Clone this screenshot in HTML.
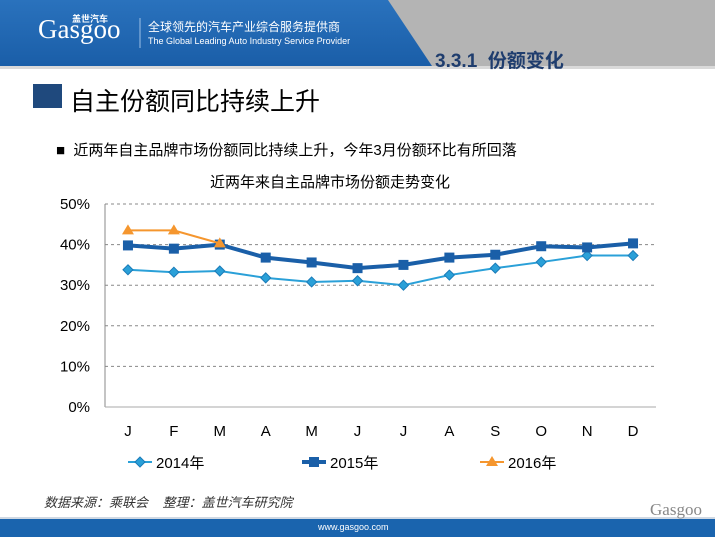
<!DOCTYPE html>
<html><head><meta charset="utf-8"><style>
body{margin:0;width:715px;height:537px;overflow:hidden;background:#fff;font-family:"Liberation Sans","Noto Sans CJK SC",sans-serif;position:relative}
.a{position:absolute}
</style></head><body>
<svg class="a" style="left:0;top:0" width="715" height="537">
<defs><linearGradient id="hb" x1="0" x2="0" y1="0" y2="1"><stop offset="0" stop-color="#2a72bd"/><stop offset="1" stop-color="#1a5ea8"/></linearGradient></defs>
<rect x="0" y="0" width="715" height="68" fill="#b4b4b4"/>
<polygon points="0,0 388,0 432,66 0,66" fill="url(#hb)"/>
<rect x="0" y="66" width="715" height="3" fill="#d9d9d9"/>
<rect x="0" y="519" width="715" height="18" fill="#1a64ae"/>
<rect x="0" y="517" width="715" height="2" fill="#cfd8e3"/>
<rect x="33" y="84" width="29" height="24" fill="#1f497d"/>
<line x1="140" y1="18" x2="140" y2="48" stroke="#9dc0e6" stroke-width="1"/>
</svg>
<div class="a" style="left:38px;top:14px;color:#fff;font-family:'Liberation Serif',serif;font-size:27px;line-height:30px">Gasgoo</div>
<div class="a" style="left:72px;top:12px;color:#fff;font-size:9px;font-weight:bold">盖世汽车</div>
<div class="a" style="left:148px;top:18px;color:#fff;font-size:12px">全球领先的汽车产业综合服务提供商</div>
<div class="a" style="left:148px;top:36px;color:#fff;font-size:9px">The Global Leading Auto Industry Service Provider</div>
<div class="a" style="left:435px;top:46px;color:#1f3d6e;font-size:19px;font-weight:bold">3.3.1&nbsp; 份额变化</div>
<div class="a" style="left:70px;top:82px;color:#000;font-size:25px">自主份额同比持续上升</div>
<div class="a" style="left:56px;top:139px;color:#000;font-size:15px">■&nbsp; 近两年自主品牌市场份额同比持续上升，今年3月份额环比有所回落</div>
<div class="a" style="left:210px;top:171px;color:#000;font-size:15px">近两年来自主品牌市场份额走势变化</div>
<div class="a" style="left:44px;top:492px;color:#333;font-size:13px;font-style:italic">数据来源：乘联会&nbsp;&nbsp;&nbsp;&nbsp;整理：盖世汽车研究院</div>
<div class="a" style="left:318px;top:522px;color:#fff;font-size:9px">www.gasgoo.com</div>
<div class="a" style="left:650px;top:500px;color:#888;font-family:'Liberation Serif',serif;font-size:17px">Gasgoo</div>
<svg id="chart" class="a" style="left:0;top:0" width="715" height="537"></svg>
<script>
const categories=["J","F","M","A","M","J","J","A","S","O","N","D"];
const s2014=[33.8,33.2,33.5,31.8,30.8,31.1,30.0,32.5,34.2,35.7,37.3,37.3];
const s2015=[39.8,39.0,40.0,36.8,35.6,34.2,35.0,36.8,37.5,39.6,39.3,40.3];
const s2016=[43.5,43.5,40.3];
const yTicks=[0,10,20,30,40,50];
const NS="http://www.w3.org/2000/svg";
const svg=document.getElementById('chart');
const x0=105,x1=656,y0=407,y1=204;
const step=(x1-x0)/categories.length;
const X=i=>x0+step*(i+0.5);
const Y=v=>y0-(v/50)*(y0-y1);
function mk(t,a){const e=document.createElementNS(NS,t);for(const k in a)e.setAttribute(k,a[k]);svg.appendChild(e);return e;}
yTicks.forEach(t=>{
 if(t>0){const l=mk('line',{x1:x0,x2:x1,y1:Y(t),y2:Y(t),stroke:'#888','stroke-dasharray':'3,3'});
 
 }
 const tx=mk('text',{x:x0-15,y:Y(t)+5,'text-anchor':'end','font-size':15,fill:'#000'});tx.textContent=t+'%';
 
 
});
const ax=mk('line',{x1:x0,x2:x0,y1:y1,y2:y0,stroke:'#888'});


const bx=mk('line',{x1:x0,x2:x1,y1:y0,y2:y0,stroke:'#aaa'});


categories.forEach((c,i)=>{
 const t=mk('text',{x:X(i),y:436,'text-anchor':'middle','font-size':15,fill:'#000'});t.textContent=c;
 
 
});
function series(data,color,w,marker,name){
 const p=mk('polyline',{points:data.map((v,i)=>X(i)+','+Y(v)).join(' '),fill:'none',stroke:color,'stroke-width':w});
 
 
 data.forEach((v,i)=>{drawMarker(marker,X(i),Y(v),color,name);});
}
function drawMarker(m,x,y,color,name){
 let e;
 if(m==='d')e=mk('polygon',{points:`${x},${y-5} ${x+5},${y} ${x},${y+5} ${x-5},${y}`,fill:'#2aa0d8',stroke:'#1a7bb8'});
 else if(m==='s')e=mk('rect',{x:x-5,y:y-5,width:10,height:10,fill:'#1a5fa8'});
 else e=mk('polygon',{points:`${x},${y-6} ${x+6},${y+4} ${x-6},${y+4}`,fill:'#f5962e'});
 
 
}
series(s2014,'#2aa0d8',2,'d','2014');
series(s2015,'#1a5fa8',4,'s','2015');
series(s2016,'#f5962e',2,'t','2016');
[['d','#2aa0d8',128,'2014年',2],['s','#1a5fa8',302,'2015年',4],['t','#f5962e',480,'2016年',2]].forEach(([m,c,lx,lab,w])=>{
 const l=mk('line',{x1:lx,x2:lx+24,y1:462,y2:462,stroke:c,'stroke-width':w});
 
 
 drawMarker(m,lx+12,462,c,'legend');
 const t=mk('text',{x:lx+28,y:468,'font-size':15,fill:'#000'});t.textContent=lab;
 
 
});
</script>
</body></html>
